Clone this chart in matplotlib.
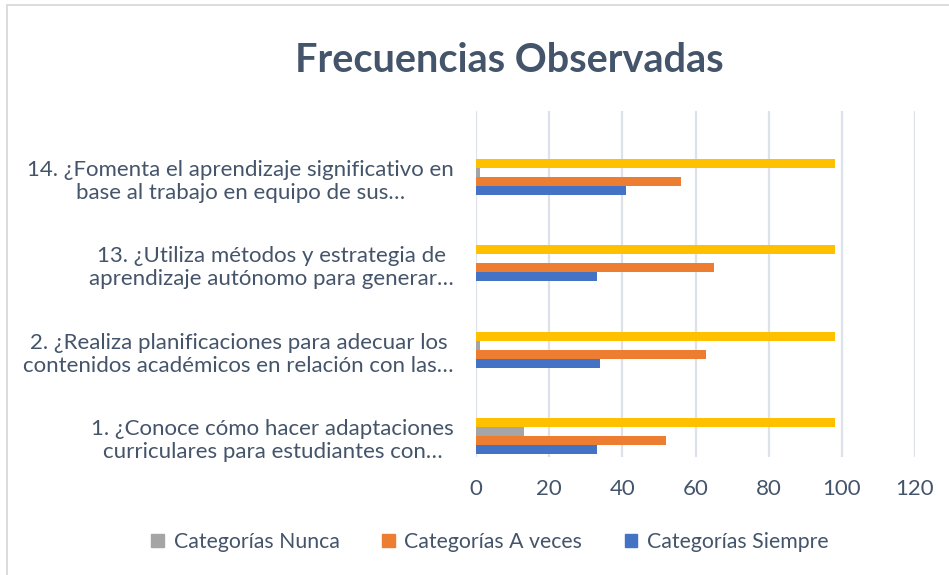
import matplotlib
matplotlib.use("Agg")
import matplotlib.pyplot as plt
from matplotlib.patches import Patch, Rectangle
import numpy as np

plt.rcParams['font.family'] = ['Lato', 'DejaVu Sans']

categories = [
    "1. ¿Conoce cómo hacer adaptaciones\ncurriculares para estudiantes con…",
    "2. ¿Realiza planificaciones para adecuar los\ncontenidos académicos en relación con las…",
    "13. ¿Utiliza métodos y estrategia de\naprendizaje autónomo para generar…",
    "14. ¿Fomenta el aprendizaje significativo en\nbase al trabajo en equipo de sus…",
]
siempre = [33, 34, 33, 41]
a_veces = [52, 63, 65, 56]
nunca = [13, 1, 0, 1]
total = [98, 98, 98, 98]
x_ticks = [0, 20, 40, 60, 80, 100, 120]

c_total = '#FFC000'
c_nunca = '#A5A5A5'
c_aveces = '#ED7D31'
c_siempre = '#4472C4'
txt = '#44546A'

fig = plt.figure(figsize=(9.49, 5.75), dpi=100)
ax = fig.add_axes([476/949, 118/575, 439/949, 346/575])

y = np.arange(len(categories))
h = 0.104
ax.barh(y - 1*h, total, height=h, color=c_total, zorder=3)
ax.barh(y - 2*h, nunca, height=h, color=c_nunca, zorder=3)
ax.barh(y - 3*h, a_veces, height=h, color=c_aveces, zorder=3)
ax.barh(y - 4*h, siempre, height=h, color=c_siempre, zorder=3)

ax.set_xlim(0, 120)
ax.set_ylim(-0.5, len(categories) - 0.5)
ax.set_xticks(x_ticks)
ax.set_xticklabels([str(v) for v in x_ticks])
ax.set_yticks(y - 2.6*h)
ax.set_yticklabels(categories, multialignment='center', linespacing=1.2)
ax.tick_params(axis='both', length=0, labelsize=16, colors=txt)
ax.tick_params(axis='x', pad=16)
ax.tick_params(axis='y', pad=16)
ax.grid(axis='x', color='#DDE2EA', linewidth=1.6, zorder=0)
for s in ax.spines.values():
    s.set_visible(False)

fig.text(509.5/949, (575-72)/575, "Frecuencias Observadas", ha='center', va='baseline',
         fontsize=28.5, fontweight='bold', color=txt)

handles = [Patch(color=c_nunca, label='Categorías Nunca'),
           Patch(color=c_aveces, label='Categorías A veces'),
           Patch(color=c_siempre, label='Categorías Siempre')]
fig.legend(handles=handles, loc='center', bbox_to_anchor=(490/949, 33/575), ncol=3,
           frameon=False, fontsize=15.3, labelcolor=txt, handlelength=0.6,
           handleheight=0.6, handletextpad=0.45, columnspacing=2.0)

fig.patches.append(Rectangle((7/949, -0.05), 1.1, 1.05 - 5/575, transform=fig.transFigure,
                             fill=False, edgecolor='#D9D9D9', linewidth=1.3))

fig.savefig('out.png', dpi=100)
